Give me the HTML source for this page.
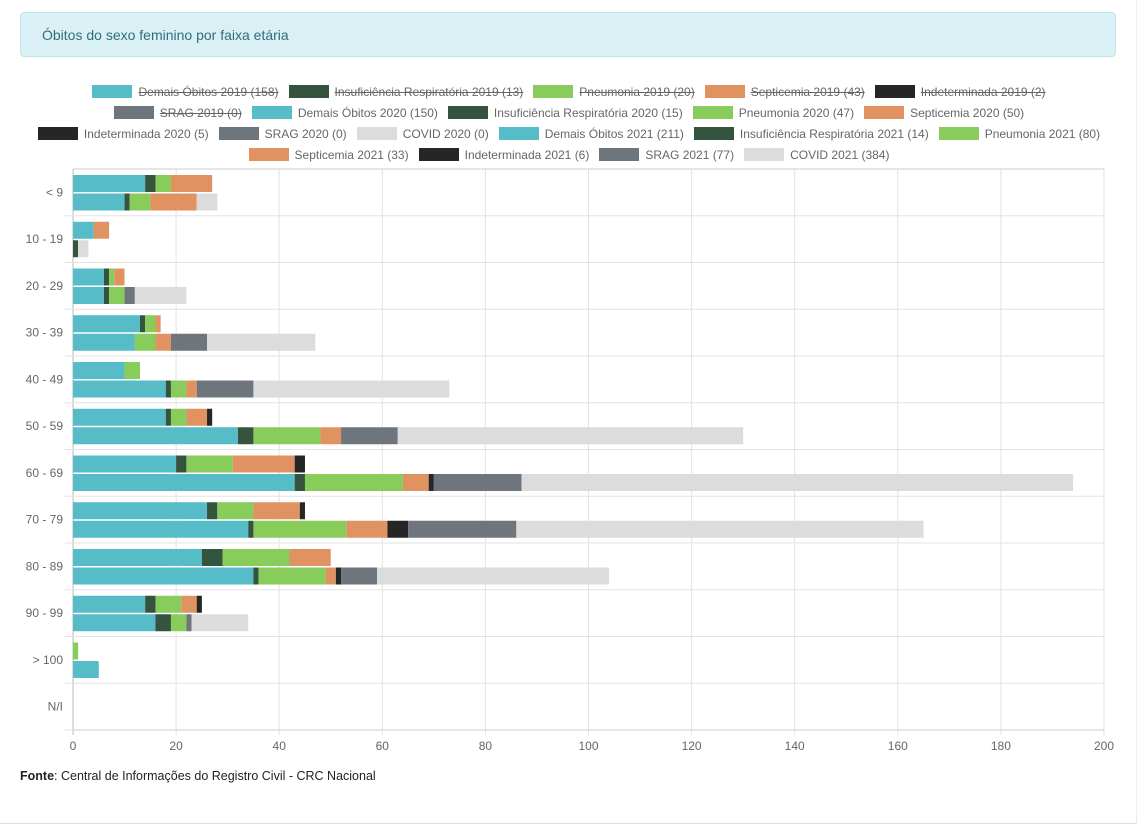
<!DOCTYPE html>
<html><head><meta charset="utf-8">
<style>
body{margin:0;width:1138px;height:828px;background:#fff;font-family:"Liberation Sans",sans-serif;position:relative;overflow:hidden}
.card{position:absolute;left:0;top:0;width:1136px;height:823px;border-bottom:1px solid #ddd;border-right:1px solid #eee}
.header{position:absolute;left:20px;top:12px;width:1096px;height:45px;background:#daf0f4;border:1px solid #bfe6ec;border-radius:4px;color:#2e6e7e;font-size:14px;line-height:45px;box-sizing:border-box;padding-left:21px}
.legend{position:absolute;left:0;top:81px;width:1138px}
.lrow{display:flex;justify-content:center;height:21px;align-items:center}
.li{display:flex;align-items:center;margin:0 5px;font-size:12px;color:#666}
.sw{width:40px;height:13px;margin-right:6px}
.off{text-decoration:line-through}
.fonte{position:absolute;left:20px;top:769px;font-size:12.5px;color:#222}
</style></head><body>
<div class="card"></div>
<div class="header">Óbitos do sexo feminino por faixa etária</div>
<div class="legend" id="legend"></div>
<svg id="chart" width="1138" height="828" style="position:absolute;left:0;top:0"></svg>
<div class="fonte"><b>Fonte</b>: Central de Informações do Registro Civil - CRC Nacional</div>
<script>
const categories=["< 9","10 - 19","20 - 29","30 - 39","40 - 49","50 - 59","60 - 69","70 - 79","80 - 89","90 - 99","> 100","N/I"];
const seriesNames=["Demais Óbitos","Insuficiência Respiratória","Pneumonia","Septicemia","Indeterminada","SRAG","COVID"];
const colors=["#56bcc8","#355440","#88cc5c","#e09360","#262626","#6e757c","#dcdcdc"];
const demais2020=[14,4,6,13,10,18,20,26,25,14,0,0];
const insuf2020=[2,0,1,1,0,1,2,2,4,2,0,0];
const pneu2020=[3,0,1,2,3,3,9,7,13,5,1,0];
const sept2020=[8,3,2,1,0,4,12,9,8,3,0,0];
const indet2020=[0,0,0,0,0,1,2,1,0,1,0,0];
const srag2020=[0,0,0,0,0,0,0,0,0,0,0,0];
const covid2020=[0,0,0,0,0,0,0,0,0,0,0,0];
const demais2021=[10,0,6,12,18,32,43,34,35,16,5,0];
const insuf2021=[1,1,1,0,1,3,2,1,1,3,0,0];
const pneu2021=[4,0,3,4,3,13,19,18,13,3,0,0];
const sept2021=[9,0,0,3,2,4,5,8,2,0,0,0];
const indet2021=[0,0,0,0,0,0,1,4,1,0,0,0];
const srag2021=[0,0,2,7,11,11,17,21,7,1,0,0];
const covid2021=[4,2,10,21,38,67,107,79,45,11,0,0];
const xTicks=[0,20,40,60,80,100,120,140,160,180,200];
const legendRows=[
 [["Demais Óbitos 2019 (158)",0,1],["Insuficiência Respiratória 2019 (13)",1,1],["Pneumonia 2019 (20)",2,1],["Septicemia 2019 (43)",3,1],["Indeterminada 2019 (2)",4,1]],
 [["SRAG 2019 (0)",5,1],["Demais Óbitos 2020 (150)",0,0],["Insuficiência Respiratória 2020 (15)",1,0],["Pneumonia 2020 (47)",2,0],["Septicemia 2020 (50)",3,0]],
 [["Indeterminada 2020 (5)",4,0],["SRAG 2020 (0)",5,0],["COVID 2020 (0)",6,0],["Demais Óbitos 2021 (211)",0,0],["Insuficiência Respiratória 2021 (14)",1,0],["Pneumonia 2021 (80)",2,0]],
 [["Septicemia 2021 (33)",3,0],["Indeterminada 2021 (6)",4,0],["SRAG 2021 (77)",5,0],["COVID 2021 (384)",6,0]]
];
const lg=document.getElementById('legend');
legendRows.forEach(r=>{const row=document.createElement('div');row.className='lrow';
 r.forEach(([t,c,off])=>{const it=document.createElement('div');it.className='li';
  
  
  it.innerHTML='<span class="sw" style="background:'+colors[c]+'"></span><span class="'+(off?'off':'')+'">'+t+'</span>';row.appendChild(it);});
 lg.appendChild(row);});
const s2020=[demais2020,insuf2020,pneu2020,sept2020,indet2020,srag2020,covid2020];
const s2021=[demais2021,insuf2021,pneu2021,sept2021,indet2021,srag2021,covid2021];
const L=73,R=1104,T=169,B=730,xMax=200;
const x=v=>L+(R-L)*v/xMax;
const band=(B-T)/categories.length;
const svg=document.getElementById('chart');const NS='http://www.w3.org/2000/svg';
function mk(tag,a){const e=document.createElementNS(NS,tag);for(const k in a)e.setAttribute(k,a[k]);svg.appendChild(e);return e;}
xTicks.forEach(t=>{const l=mk('line',{x1:x(t),x2:x(t),y1:T,y2:B+5,stroke:t==0?'#bbb':'#e3e3e3'});
 
 
 const tx=mk('text',{x:x(t),y:750,'text-anchor':'middle','font-size':12,fill:'#666'});tx.textContent=t;
 
 });
categories.forEach((c,i)=>{
 const y0=T+i*band;
 const g=mk('line',{x1:L-8,x2:R,y1:y0+band,y2:y0+band,stroke:'#e3e3e3'});
 
 
 const tx=mk('text',{x:63,y:y0+band/2+4,'text-anchor':'end','font-size':12,fill:'#666'});tx.textContent=c;
 
 
 [s2020,s2021].forEach((S,k)=>{let acc=0;const by=y0+6+k*18.5;
  S.forEach((arr,j)=>{const v=arr[i];if(v>0){const r=mk('rect',{x:x(acc),y:by,width:x(acc+v)-x(acc),height:17,fill:colors[j]});
   
   }acc+=v;});});
});
mk('line',{x1:L,x2:R,y1:T,y2:T,stroke:'#ccc'});
mk('line',{x1:R,x2:R,y1:T,y2:B,stroke:'#e3e3e3'});
mk('line',{x1:L,x2:R,y1:B,y2:B,stroke:'#ccc'});
</script>
</body></html>
